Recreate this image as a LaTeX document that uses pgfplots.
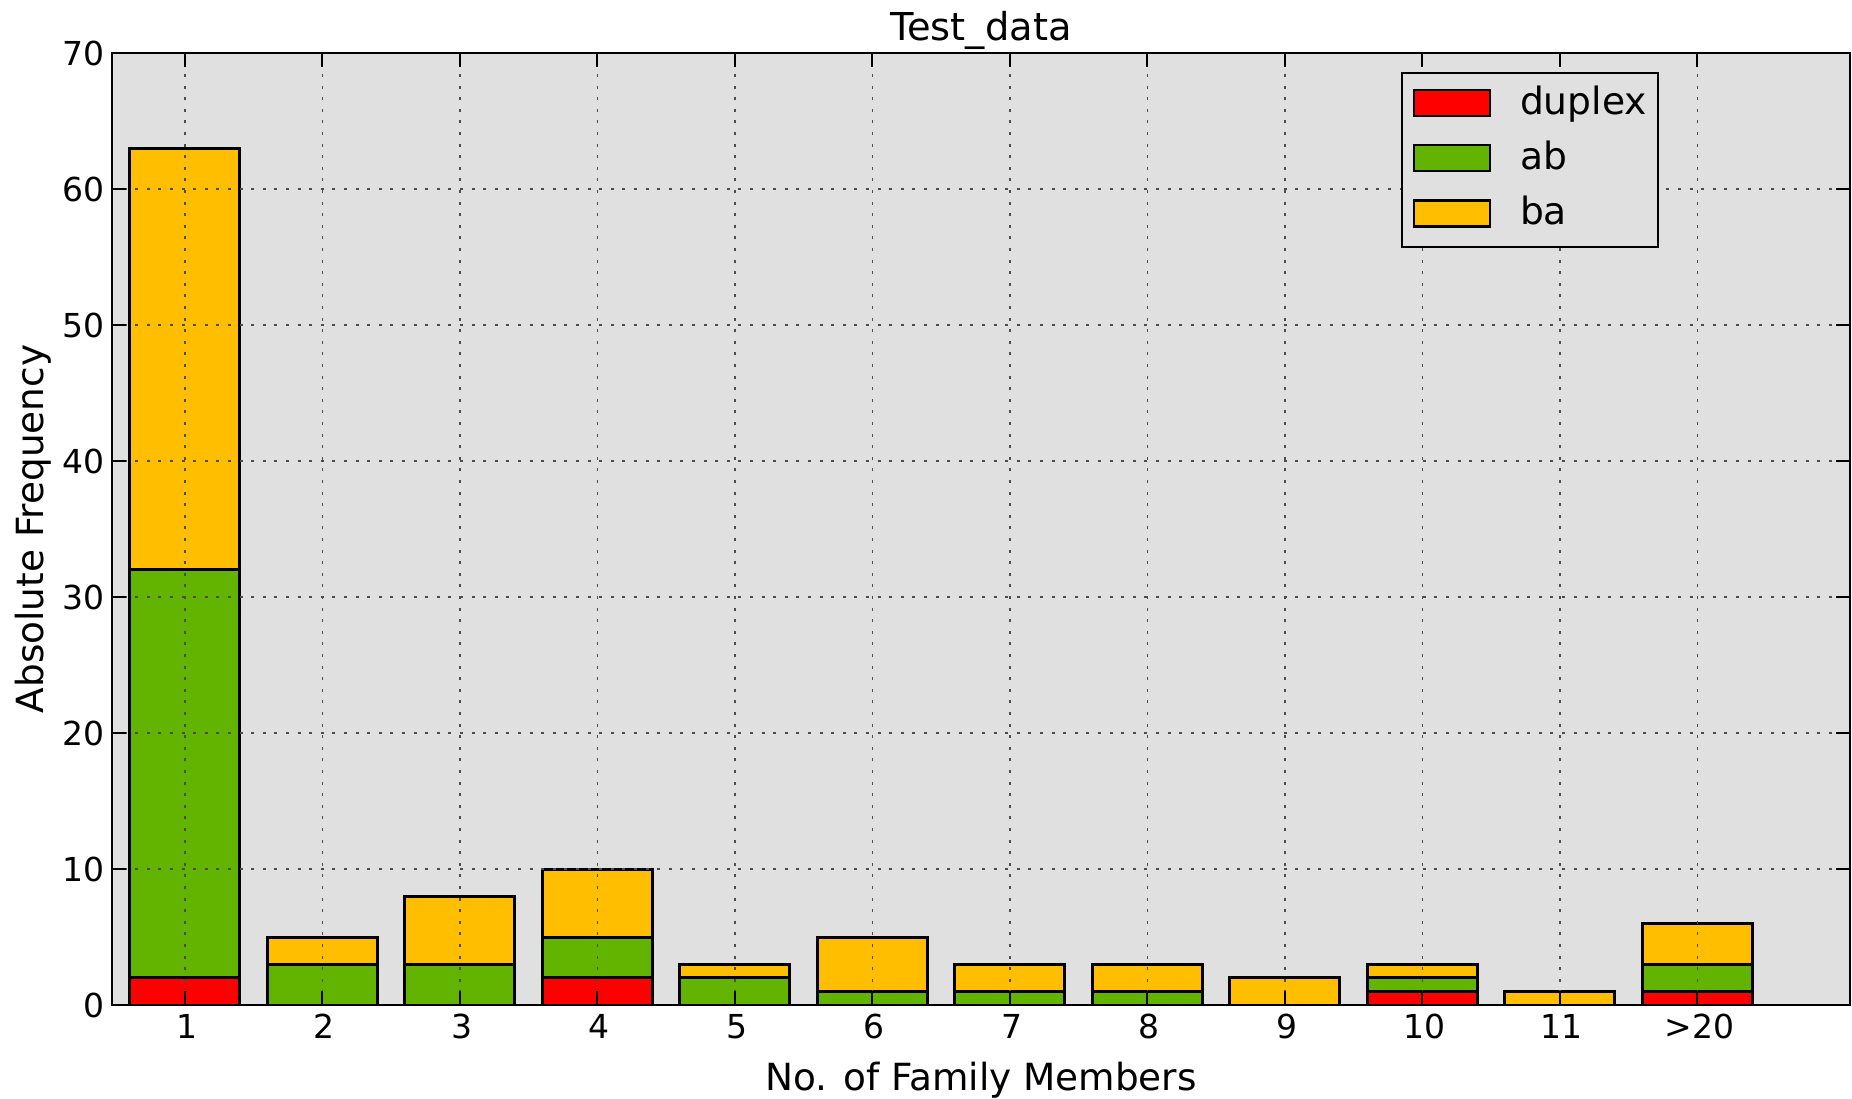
\documentclass[border=0pt]{standalone}
\usepackage{fontspec}
\setmainfont{DejaVu Sans}
\usepackage{pgfplots}
\pgfplotsset{compat=1.18}
\definecolor{bg}{HTML}{E0E0E0}
\definecolor{cred}{HTML}{FF0000}
\definecolor{cgreen}{HTML}{62B400}
\definecolor{cyel}{HTML}{FFBF00}
\begin{document}
\begin{tikzpicture}
\begin{axis}[
  scale only axis, width=869pt, height=476pt,
  xmin=0.47, xmax=13.11, ymin=0, ymax=70,
  ybar stacked, bar width=0.8,
  axis background/.style={fill=bg},
  axis on top,
  xtick={1,...,12},
  xticklabels={1,2,3,4,5,6,7,8,9,10,11,>20},
  ytick={0,10,...,70},
  tick align=inside, tick pos=both, major tick length=7pt,
  grid=major,
  major grid style={black!70, line width=0.7pt, dash pattern=on 1.5pt off 4.3pt},
  axis line style={line width=1.2pt},
  tick style={black, line width=1pt},
  /pgf/number format/assume math mode=true,
  tick label style={font=\fontsize{16.5}{20}\selectfont},
  xticklabel style={yshift=-1pt, xshift=1pt},
  every axis title shift=0pt,
  title={Test\_data},
  title style={font=\fontsize{19.2}{23}\selectfont, inner sep=0pt, at={(axis description cs:0.5,1.02416)}, anchor=center},
  xlabel={No. of Family Members},
  xlabel style={font=\fontsize{18.7}{22}\selectfont, inner sep=0pt, at={(axis description cs:0.5,-0.079)}, anchor=center},
  ylabel={Absolute Frequency},
  ylabel style={font=\fontsize{18.7}{22}\selectfont, inner sep=0pt, at={(axis description cs:-0.04545,0.5)}, anchor=center},
  legend style={at={(axis description cs:0.890,0.980)}, anchor=north east,
    fill=bg, draw=black, line width=1pt,
    font=\fontsize{18.8}{22}\selectfont,
    inner xsep=5.5pt, inner ysep=6.5pt, row sep=9.2pt, column sep=14.5pt,
    nodes={inner xsep=0pt, inner ysep=0pt, text height=14pt, text depth=4.5pt}},
  legend cell align=left,
  legend image code/.code={\draw[#1, line width=1.2pt] (0pt,-5.6pt) rectangle (38pt,7.4pt);},
  every axis plot/.append style={draw=black, line width=1.5pt},
]
\addplot[fill=cred] coordinates {(1,2) (2,0) (3,0) (4,2) (5,0) (6,0) (7,0) (8,0) (9,0) (10,1) (11,0) (12,1)};
\addplot[fill=cgreen] coordinates {(1,30) (2,3) (3,3) (4,3) (5,2) (6,1) (7,1) (8,1) (9,0) (10,1) (11,0) (12,2)};
\addplot[fill=cyel] coordinates {(1,31) (2,2) (3,5) (4,5) (5,1) (6,4) (7,2) (8,2) (9,2) (10,1) (11,1) (12,3)};
\legend{duplex, ab, ba}
\end{axis}
\path (current axis.south west) ++(-56pt,-46.5pt) rectangle ++(926pt,549pt);
\end{tikzpicture}
\end{document}
